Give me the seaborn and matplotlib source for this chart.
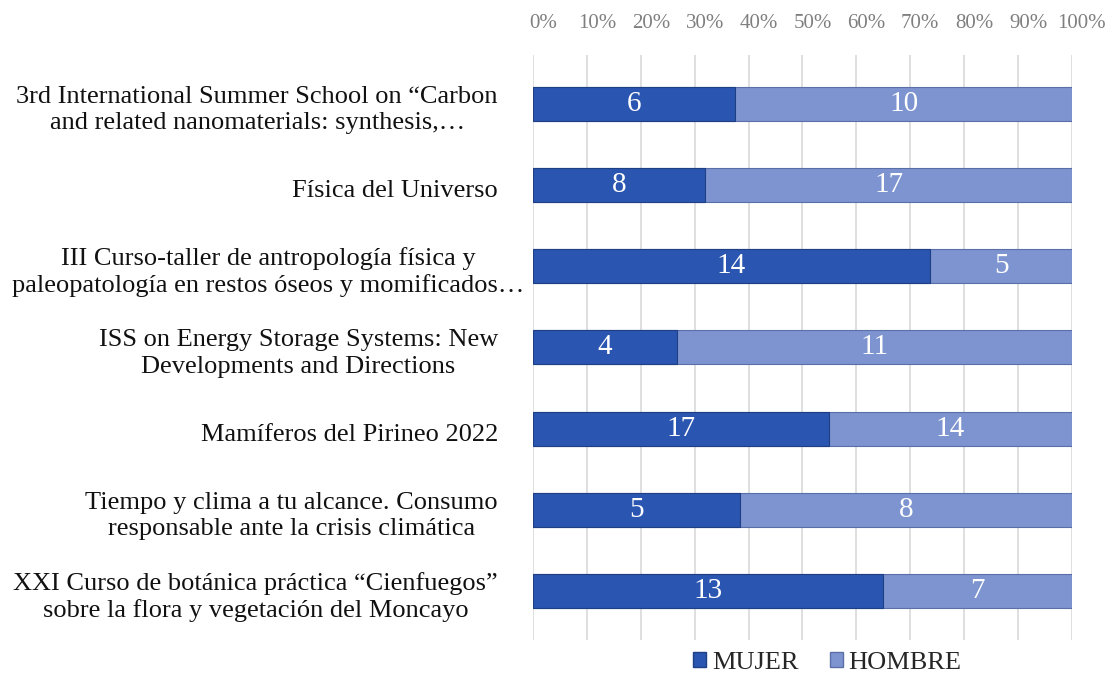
import pandas as pd
import matplotlib.pyplot as plt
import seaborn as sns
import numpy as np
from matplotlib.patches import Patch
from matplotlib.transforms import ScaledTranslation

sns.set_style("white")
plt.rcParams['font.family'] = ['Liberation Serif', 'DejaVu Serif']

# Data
cursos = [
    "3rd International Summer School on \u201cCarbon\nand related nanomaterials: synthesis,\u2026",
    "F\u00edsica del Universo",
    "III Curso-taller de antropolog\u00eda f\u00edsica y\npaleopatolog\u00eda en restos \u00f3seos y momificados\u2026",
    "ISS on Energy Storage Systems: New\nDevelopments and Directions",
    "Mam\u00edferos del Pirineo 2022",
    "Tiempo y clima a tu alcance. Consumo\nresponsable ante la crisis clim\u00e1tica",
    "XXI Curso de bot\u00e1nica pr\u00e1ctica \u201cCienfuegos\u201d\nsobre la flora y vegetaci\u00f3n del Moncayo",
]
mujer = [6, 8, 14, 4, 17, 5, 13]
hombre = [10, 17, 5, 11, 14, 8, 7]
ticks = [0, 0.1, 0.2, 0.3, 0.4, 0.5, 0.6, 0.7, 0.8, 0.9, 1.0]

df = pd.DataFrame({'Curso': cursos, 'MUJER': mujer, 'HOMBRE': hombre})
df['total'] = df['MUJER'] + df['HOMBRE']
df['p_mujer'] = df['MUJER'] / df['total']
df['p_total'] = 1.0

c_mujer = '#2A55B0'
c_hombre = '#7D94D0'

fig = plt.figure(figsize=(11.15, 6.75), dpi=100)
ax = fig.add_axes([0.478, 0.052, 0.4834, 0.8667])

sns.barplot(data=df, y='Curso', x='p_total', color=c_hombre, orient='h', saturation=1,
            width=0.42, ax=ax, edgecolor='#5a6fa8', linewidth=0.8)
sns.barplot(data=df, y='Curso', x='p_mujer', color=c_mujer, orient='h', saturation=1,
            width=0.42, ax=ax, edgecolor='#1f3f85', linewidth=0.8)

# Value labels
for i, row in df.iterrows():
    ax.text(row['p_mujer'] / 2, i, str(row['MUJER']), color='white',
            ha='center', va='center', fontsize=21)
    ax.text((row['p_mujer'] + 1) / 2, i, str(row['HOMBRE']), color='white',
            ha='center', va='center', fontsize=21)

# Category labels (drawn as text so the long one can overflow like in Excel)
ax.set_yticklabels([])
lab_trans = ax.get_yaxis_transform()
for i, name in enumerate(cursos):
    shift = 26 if i == 2 else 0
    off = ScaledTranslation((shift - 35) / 100, -6 / 100, fig.dpi_scale_trans)
    ax.text(0, i, name, transform=lab_trans + off, ha='right', va='center',
            multialignment='center', fontsize=19, linespacing=1.25, color='#111111')

ax.set_xlim(0, 1)
ax.set_ylim(6.6, -0.6)
ax.set_xticks(ticks)
ax.set_xticklabels([f'{int(t*100)}%' for t in ticks], color='#7f7f7f', fontsize=15)
ax.xaxis.tick_top()
ax.tick_params(axis='x', length=0, pad=16)
ax.tick_params(axis='y', length=0)
# perspective look: top labels sit a bit to the right of the bars
tick_off = ScaledTranslation(10 / 100, 0, fig.dpi_scale_trans)
for t in ax.xaxis.get_major_ticks():
    t.label2.set_transform(t.label2.get_transform() + tick_off)
ax.set_xlabel('')
ax.set_ylabel('')
ax.grid(axis='x', color='#d9d9d9', linewidth=1.2)
ax.set_axisbelow(True)
for s in ax.spines.values():
    s.set_visible(False)

handles = [Patch(facecolor=c_mujer, edgecolor='#1f3f85', label='MUJER'),
           Patch(facecolor=c_hombre, edgecolor='#5a6fa8', label='HOMBRE')]
fig.legend(handles=handles, loc='lower center', bbox_to_anchor=(0.742, -0.033),
           ncol=2, frameon=False, fontsize=19, handlelength=0.5,
           handleheight=0.5, handletextpad=0.2, columnspacing=1.2)

plt.savefig('out.png', dpi=100)
